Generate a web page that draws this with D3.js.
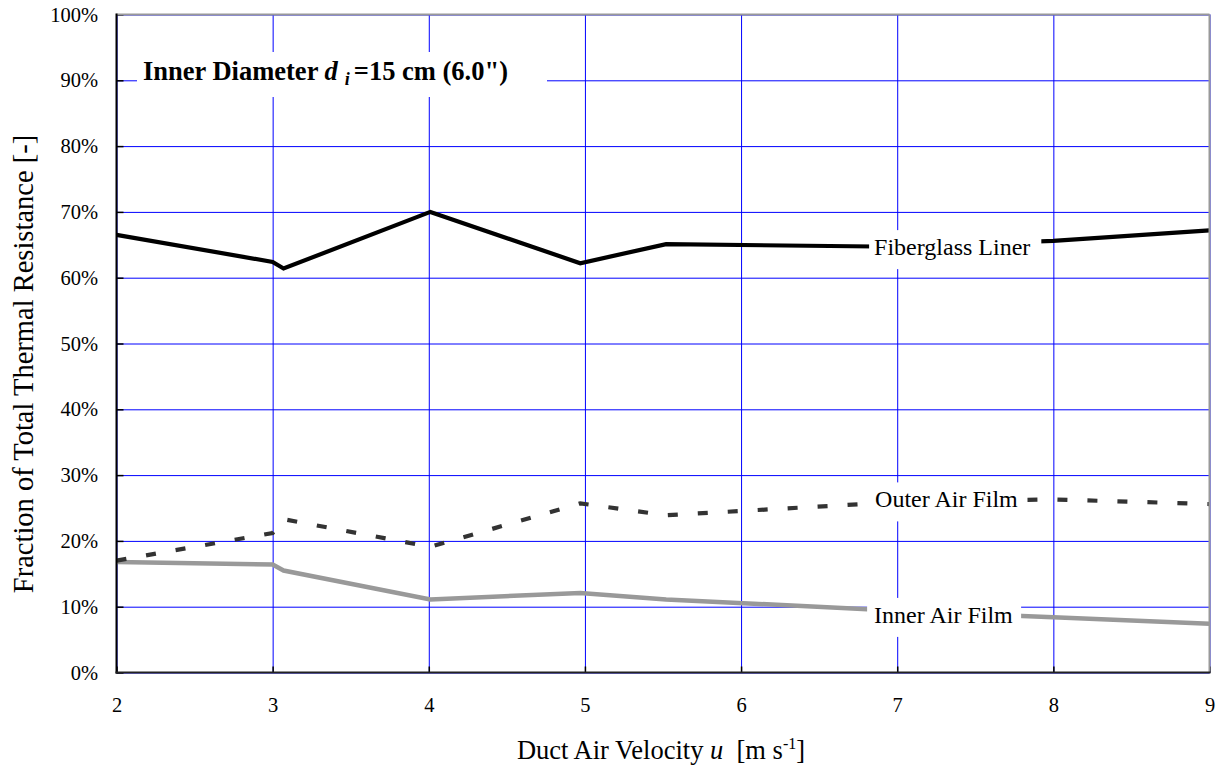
<!DOCTYPE html>
<html>
<head>
<meta charset="utf-8">
<script src="https://cdn.jsdelivr.net/npm/d3@7"></script>
<style>
  html, body { margin: 0; padding: 0; background: #fff; }
  svg { display: block; font-family: "Liberation Serif", "Times New Roman", serif; }
</style>
</head>
<body>
<svg id="chart" width="1222" height="769"></svg>
<script>
// ---- Data ----
const velocity = [2, 3, 3.07, 4.01, 4.97, 5.52, 7, 8, 9];
const fiberglassLiner = [66.5, 62.4, 61.4, 70.0, 62.2, 65.1, 64.7, 65.6, 67.2];
const outerAirFilm   = [17.0, 21.2, 23.3, 19.1, 25.7, 23.9, 25.9, 26.3, 25.6];
const innerAirFilm   = [16.8, 16.4, 15.5, 11.1, 12.1, 11.1, 9.4, 8.4, 7.4];
const xTicks = [2, 3, 4, 5, 6, 7, 8, 9];
const yTicks = [0, 10, 20, 30, 40, 50, 60, 70, 80, 90, 100];
const seriesNames = ["Fiberglass Liner", "Outer Air Film", "Inner Air Film"];

(function () {
// ---- Layout ----
const svg = d3.select("#chart");
const pL = 116.5, pR = 1209.5, pT = 14.5, pB = 672.5;
const x = d3.scaleLinear().domain([2, 9]).range([pL, pR]);
const y = d3.scaleLinear().domain([0, 100]).range([pB, pT]);
const serif = "Liberation Serif, Times New Roman, serif";

// Gridlines
svg.append("g")
  .attr("transform", `translate(0,${pB})`)
  .call(d3.axisBottom(x).tickValues(xTicks).tickSize(-(pB - pT)).tickFormat(""))
  .call(g => g.select(".domain").remove())
  .call(g => g.selectAll("line").attr("stroke", "#0000ff").attr("stroke-width", 1));
svg.append("g")
  .attr("transform", `translate(${pL},0)`)
  .call(d3.axisLeft(y).tickValues(yTicks).tickSize(-(pR - pL)).tickFormat(""))
  .call(g => g.select(".domain").remove())
  .call(g => g.selectAll("line").attr("stroke", "#0000ff").attr("stroke-width", 1));

// Axes with inward ticks
svg.append("g")
  .attr("transform", `translate(${pL},0)`)
  .call(d3.axisLeft(y).tickValues(yTicks).tickSize(-7).tickPadding(18.5).tickFormat(d => d + "%"))
  .call(g => g.select(".domain").remove())
  .call(g => g.selectAll("line").attr("stroke", "#000").attr("stroke-width", 1.5))
  .call(g => g.selectAll("text").attr("font-size", 20.5).attr("fill", "#000").attr("font-family", serif));
svg.append("g")
  .attr("transform", `translate(0,${pB})`)
  .call(d3.axisBottom(x).tickValues(xTicks).tickSize(-6).tickPadding(25).tickFormat(d3.format("d")))
  .call(g => g.select(".domain").remove())
  .call(g => g.selectAll("line").attr("stroke", "#000").attr("stroke-width", 1.5))
  .call(g => g.selectAll("text").attr("font-size", 20.5).attr("fill", "#000").attr("font-family", serif));

// Series lines
const line = d3.line().x((d, i) => x(velocity[i])).y(d => y(d));
svg.append("path").datum(innerAirFilm)
  .attr("d", line).attr("fill", "none").attr("stroke", "#999999").attr("stroke-width", 4.5)
  .attr("stroke-linejoin", "miter");
svg.append("path").datum(outerAirFilm)
  .attr("d", line).attr("fill", "none").attr("stroke", "#333333").attr("stroke-width", 4.2)
  .attr("stroke-dasharray", "10,20");
svg.append("path").datum(fiberglassLiner)
  .attr("d", line).attr("fill", "none").attr("stroke", "#000000").attr("stroke-width", 4.2)
  .attr("stroke-linejoin", "miter");

// Frame
svg.append("line").attr("x1", pL).attr("x2", pR).attr("y1", pT).attr("y2", pT)
  .attr("stroke", "#999").attr("stroke-width", 2);
svg.append("line").attr("x1", pR).attr("x2", pR).attr("y1", pT).attr("y2", pB)
  .attr("stroke", "#999").attr("stroke-width", 2);
svg.append("line").attr("x1", pL).attr("x2", pL).attr("y1", pT - 1).attr("y2", pB + 1)
  .attr("stroke", "#000").attr("stroke-width", 2);
svg.append("line").attr("x1", pL - 1).attr("x2", pR + 1).attr("y1", pB).attr("y2", pB)
  .attr("stroke", "#222").attr("stroke-width", 2);

// Series labels with white boxes
function boxedLabel(txt, tx, ty, padL, padR, size) {
  const g = svg.append("g");
  const rect = g.append("rect").attr("fill", "#fff");
  const t = g.append("text").attr("x", tx).attr("y", ty).attr("font-size", size).attr("fill", "#000").text(txt);
  const bb = t.node().getBBox();
  rect.attr("x", bb.x - padL).attr("width", bb.width + padL + padR)
      .attr("y", ty - 25).attr("height", 39);
}
boxedLabel(seriesNames[0], x(6.82) + 5, y(64.8) + 9, 5, 11, 24);
boxedLabel(seriesNames[1], x(6.82) + 6, y(25.7) + 4, 5, 9, 24);
boxedLabel(seriesNames[2], x(6.82) + 5, y(8.6) + 7, 7, 8, 24);

// Title box
const tg = svg.append("g");
const trect = tg.append("rect").attr("fill", "#fff");
const tt = tg.append("text").attr("x", 143).attr("y", 80).attr("font-size", 26.5).attr("font-weight", "bold").attr("fill", "#000");
tt.append("tspan").text("Inner Diameter ");
tt.append("tspan").attr("font-style", "italic").text("d");
tt.append("tspan").attr("font-style", "italic").attr("font-size", 18).attr("dx", 7).attr("dy", 5).text("i");
tt.append("tspan").attr("dy", -5).attr("dx", 4).text("=15 cm (6.0\")");
trect.attr("x", 137).attr("y", 52).attr("width", 410).attr("height", 45);

// Axis titles
svg.append("text")
  .attr("transform", "translate(33,364) rotate(-90)")
  .attr("text-anchor", "middle").attr("font-size", 28.5).attr("fill", "#000")
  .text("Fraction of Total Thermal Resistance [-]");

const xt = svg.append("text").attr("x", 661).attr("y", 759).attr("text-anchor", "middle")
  .attr("font-size", 26.5).attr("fill", "#000");
xt.append("tspan").text("Duct Air Velocity ");
xt.append("tspan").attr("font-style", "italic").text("u");
xt.append("tspan").text("\u00a0 [m s");
xt.append("tspan").attr("font-size", 16).attr("dy", -10).text("-1");
xt.append("tspan").attr("dy", 10).text("]");
})();
</script>
</body>
</html>
